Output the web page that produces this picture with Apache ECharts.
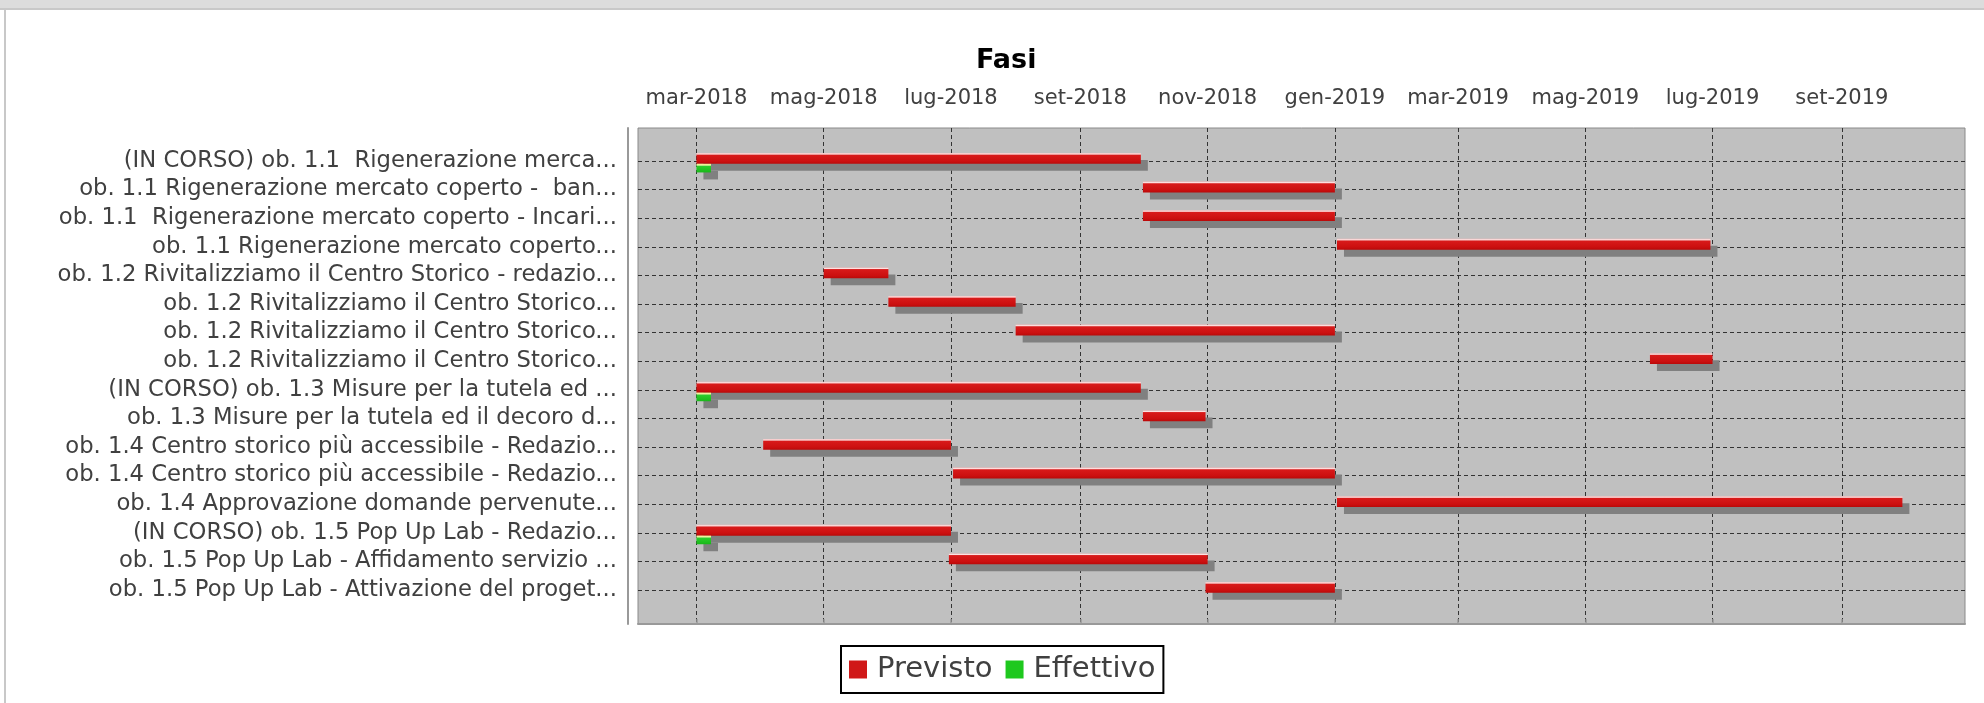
<!DOCTYPE html>
<html>
<head>
<meta charset="utf-8">
<title>Fasi</title>
<script src="https://cdn.jsdelivr.net/npm/echarts@6/dist/echarts.min.js"></script>
<style>
    html, body { margin: 0; padding: 0; background: #fff; }
    #chart { position: absolute; left: 0; top: 0; width: 1984px; height: 703px; }
    .top-strip { position: absolute; left: 0; top: 0; width: 1984px; height: 8px; background: #dcdcdc; border-bottom: 2px solid #c8c8c8; z-index: 2; }
    .left-strip { position: absolute; left: 4px; top: 10px; width: 2px; height: 693px; background: #c8c8c8; z-index: 2; }
</style>
</head>
<body>
<div class="top-strip"></div>
<div class="left-strip"></div>
<div id="chart"></div>
<script>
// etichette delle fasi (come appaiono troncate nel grafico)
const categories = [
    '(IN CORSO) ob. 1.1  Rigenerazione merca...',
    'ob. 1.1 Rigenerazione mercato coperto -  ban...',
    'ob. 1.1  Rigenerazione mercato coperto - Incari...',
    'ob. 1.1 Rigenerazione mercato coperto...',
    'ob. 1.2 Rivitalizziamo il Centro Storico - redazio...',
    'ob. 1.2 Rivitalizziamo il Centro Storico...',
    'ob. 1.2 Rivitalizziamo il Centro Storico...',
    'ob. 1.2 Rivitalizziamo il Centro Storico...',
    '(IN CORSO) ob. 1.3 Misure per la tutela ed ...',
    'ob. 1.3 Misure per la tutela ed il decoro d...',
    'ob. 1.4 Centro storico più accessibile - Redazio...',
    'ob. 1.4 Centro storico più accessibile - Redazio...',
    'ob. 1.4 Approvazione domande pervenute...',
    '(IN CORSO) ob. 1.5 Pop Up Lab - Redazio...',
    'ob. 1.5 Pop Up Lab - Affidamento servizio ...',
    'ob. 1.5 Pop Up Lab - Attivazione del proget...'
]

// Previsto
const plannedStart = [
    '2018-03-01', '2018-10-01', '2018-10-01', '2019-01-02',
    '2018-05-01', '2018-06-01', '2018-08-01', '2019-06-01',
    '2018-03-01', '2018-10-01', '2018-04-02', '2018-07-02',
    '2019-01-02', '2018-03-01', '2018-06-30', '2018-10-31'
]
const plannedEnd = [
    '2018-09-30', '2019-01-01', '2019-01-01', '2019-06-30',
    '2018-06-01', '2018-08-01', '2019-01-01', '2019-07-01',
    '2018-09-30', '2018-10-31', '2018-07-01', '2019-01-01',
    '2019-09-30', '2018-07-01', '2018-11-01', '2019-01-01'
]

// Effettivo (solo le fasi in corso)
const actualRows = [0, 8, 13]
const actualStart = ['2018-03-01', '2018-03-01', '2018-03-01']
const actualEnd = ['2018-03-08', '2018-03-08', '2018-03-08']

// asse dei tempi
const tickDates = [
    '2018-03-01', '2018-05-01', '2018-07-01', '2018-09-01', '2018-11-01',
    '2019-01-01', '2019-03-01', '2019-05-01', '2019-07-01', '2019-09-01'
]
const tickLabels = [
    'mar-2018', 'mag-2018', 'lug-2018', 'set-2018', 'nov-2018',
    'gen-2019', 'mar-2019', 'mag-2019', 'lug-2019', 'set-2019'
]
const axisStart = '2018-02-01'
const axisEnd = '2019-10-30'

const toTime = (s) => +echarts.time.parse(s)
const tickValues = tickDates.map(toTime)
const font = 'DejaVu Sans'

const chart = echarts.init(document.getElementById('chart'))

// barra con ombra, top/bottom in frazioni della banda della categoria
const makeRenderer = (top, bottom, fill) => (params, api) => {
    const row = api.value(0)
    const p0 = api.coord([api.value(1), row])
    const p1 = api.coord([api.value(2), row])
    const band = api.size([0, 1])[1]
    const y = p0[1] + band * top
    const h = band * (bottom - top)
    const w = p1[0] - p0[0]
    return {
        type: 'group',
        children: [
            {type: 'rect', shape: {x: p0[0] + 7, y: y + 7, width: w, height: h}, style: {fill: '#808080'}},
            {type: 'rect', shape: {x: p0[0], y: y, width: w, height: h}, style: {fill: fill}}
        ]
    }
}

const redFill = new echarts.graphic.LinearGradient(0, 0, 0, 1, [
    {offset: 0, color: '#f4b8b8'},
    {offset: 0.1, color: '#fde6e6'},
    {offset: 0.2, color: '#d81a1a'},
    {offset: 0.75, color: '#cc1010'},
    {offset: 1, color: '#b90909'}
])
const greenFill = new echarts.graphic.LinearGradient(0, 0, 0, 1, [
    {offset: 0, color: '#eef07a'},
    {offset: 0.15, color: '#f0f4b0'},
    {offset: 0.28, color: '#2ccc2c'},
    {offset: 1, color: '#19b819'}
])

const plannedData = categories.map((c, i) => [i, toTime(plannedStart[i]), toTime(plannedEnd[i])])
const actualData = actualRows.map((r, i) => [r, toTime(actualStart[i]), toTime(actualEnd[i])])

const gridLine = {color: '#333', type: [4, 3], width: 1}

const option = {
    animation: false,
    backgroundColor: '#fff',
    title: {
        text: 'Fasi',
        left: 971,
        top: 42,
        textStyle: {fontFamily: font, fontWeight: 'bold', fontSize: 27, color: '#000'}
    },
    legend: {
        data: ['Previsto', 'Effettivo'],
        left: 841,
        top: 646,
        icon: 'rect',
        itemWidth: 18,
        itemHeight: 18,
        itemGap: 13,
        padding: [9, 8, 9, 8],
        borderColor: '#000',
        borderWidth: 2,
        backgroundColor: '#fff',
        textStyle: {fontFamily: font, fontSize: 29, color: '#404040', padding: [0, 0, 0, 5]}
    },
    grid: [
        {left: 638, top: 128, width: 1327, height: 496, show: true, backgroundColor: '#c0c0c0', borderColor: '#8a8a8a', borderWidth: 1},
        {left: 638, top: 146.7, width: 1327, height: 457.6}
    ],
    xAxis: [
        {
            gridIndex: 0,
            type: 'value',
            position: 'top',
            min: toTime(axisStart),
            max: toTime(axisEnd),
            offset: 9,
            axisLine: {show: true, lineStyle: {color: '#999', width: 2}},
            axisTick: {show: true, customValues: tickValues, length: 5, lineStyle: {color: '#999', width: 1.5}},
            axisLabel: {
                customValues: tickValues,
                formatter: (v) => {
                    const i = tickValues.findIndex(t => Math.abs(t - v) < 3600000)
                    return i >= 0 ? tickLabels[i] : ''
                },
                fontFamily: font,
                fontSize: 21,
                color: '#404040',
                margin: 10
            },
            splitLine: {show: true, lineStyle: gridLine}
        },
        {gridIndex: 1, type: 'value', min: toTime(axisStart), max: toTime(axisEnd), show: false}
    ],
    yAxis: [
        {
            gridIndex: 0,
            type: 'value',
            min: 0,
            max: 1,
            offset: 10,
            axisLine: {show: true, lineStyle: {color: '#999', width: 2}},
            axisTick: {show: false},
            axisLabel: {show: false},
            splitLine: {show: false}
        },
        {
            gridIndex: 1,
            type: 'category',
            data: categories,
            inverse: true,
            axisLine: {show: false},
            axisTick: {show: false, interval: 0},
            axisLabel: {interval: 0, fontFamily: font, fontSize: 22.7, color: '#404040', margin: 21},
            splitLine: {show: true, interval: 0, alignWithLabel: true, lineStyle: gridLine}
        }
    ],
    series: [
        {
            name: 'Previsto',
            type: 'custom',
            xAxisIndex: 1,
            yAxisIndex: 1,
            itemStyle: {color: '#d01818'},
            encode: {x: [1, 2], y: 0},
            renderItem: makeRenderer(-0.28, 0.1, redFill),
            data: plannedData
        },
        {
            name: 'Effettivo',
            type: 'custom',
            xAxisIndex: 1,
            yAxisIndex: 1,
            itemStyle: {color: '#1ec81e'},
            encode: {x: [1, 2], y: 0},
            renderItem: makeRenderer(0.1, 0.4, greenFill),
            data: actualData
        }
    ]
}

chart.setOption(option)

window.addEventListener('resize', () => {
    chart.resize()
})
</script>
</body>
</html>
